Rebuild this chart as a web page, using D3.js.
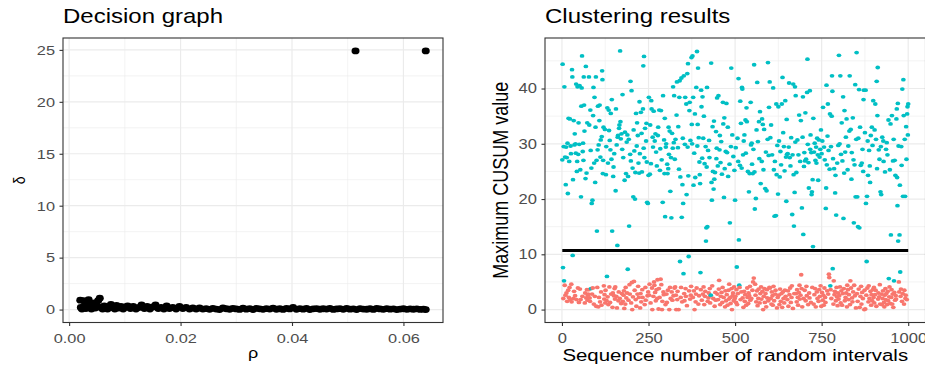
<!DOCTYPE html>
<html>
<head>
<meta charset="utf-8">
<script src="https://cdn.jsdelivr.net/npm/d3@7"></script>
<style>
  body { margin: 0; background: #fff; }
</style>
</head>
<body>
<svg id="chart" width="925" height="370"></svg>
<script>
// ---- data ----
// decision graph: [rho, delta]
const decisionPoints = [
  [0.0020, 0.90], [0.0021, 0.20], [0.0023, 0.05], [0.0026, 0.85], [0.0028, 0.35], [0.0030, 0.10],
  [0.0033, 0.60], [0.0035, 0.95], [0.0037, 0.25], [0.0040, 0.05], [0.0042, 0.40], [0.0045, 0.65],
  [0.0047, 0.15], [0.0050, 0.30], [0.0052, 0.85], [0.0055, 1.10], [0.0057, 0.20], [0.0060, 0.05],
  [0.0063, 0.35], [0.0066, 0.15], [0.0069, 0.05], [0.0072, 0.30], [0.0075, 0.50], [0.0078, 0.20],
  [0.0082, 0.05], [0.0085, 0.40], [0.0089, 0.15], [0.0093, 0.30], [0.0097, 0.05], [0.0101, 0.25],
  [0.0105, 0.35], [0.0110, 0.10], [0.0115, 0.30], [0.0120, 0.05], [0.0125, 0.20], [0.0130, 0.45],
  [0.0135, 0.10], [0.0140, 0.30], [0.0145, 0.05], [0.0150, 0.25], [0.0155, 0.45], [0.0160, 0.10],
  [0.0165, 0.20], [0.0170, 0.05], [0.0175, 0.35], [0.0180, 0.10], [0.0186, 0.20], [0.0192, 0.05],
  [0.0198, 0.30], [0.0204, 0.10], [0.0210, 0.20], [0.0216, 0.05], [0.0222, 0.15], [0.0228, 0.05],
  [0.0234, 0.15], [0.0240, 0.05], [0.0246, 0.10], [0.0252, 0.02], [0.0258, 0.12], [0.0264, 0.05],
  [0.0270, 0.00], [0.0276, 0.15], [0.0282, 0.08], [0.0288, 0.03], [0.0294, 0.11], [0.0300, 0.06],
  [0.0306, 0.01], [0.0312, 0.13], [0.0318, 0.04], [0.0324, 0.09], [0.0330, 0.00], [0.0336, 0.12],
  [0.0342, 0.07], [0.0348, 0.02], [0.0354, 0.10], [0.0360, 0.05], [0.0366, 0.14], [0.0372, 0.03],
  [0.0378, 0.08], [0.0384, 0.01], [0.0390, 0.11], [0.0396, 0.06], [0.0402, 0.20], [0.0408, 0.02],
  [0.0414, 0.09], [0.0420, 0.04], [0.0426, 0.12], [0.0432, 0.00], [0.0438, 0.07], [0.0444, 0.10],
  [0.0450, 0.03], [0.0456, 0.08], [0.0462, 0.05], [0.0468, 0.11], [0.0474, 0.01], [0.0480, 0.06],
  [0.0486, 0.09], [0.0492, 0.02], [0.0498, 0.12], [0.0504, 0.04], [0.0510, 0.07], [0.0516, 0.00],
  [0.0522, 0.10], [0.0528, 0.05], [0.0534, 0.03], [0.0540, 0.08], [0.0546, 0.01], [0.0552, 0.11],
  [0.0558, 0.06], [0.0564, 0.02], [0.0570, 0.09], [0.0576, 0.04], [0.0582, 0.07], [0.0588, 0.00],
  [0.0594, 0.05], [0.0600, 0.08], [0.0606, 0.02], [0.0612, 0.06], [0.0618, 0.03], [0.0624, 0.07],
  [0.0630, 0.01], [0.0636, 0.04], [0.0640, 0.00],
  [0.0514, 24.9], [0.0640, 24.9]
];
const rhoTicks = [0, 0.02, 0.04, 0.06];
const rhoMinor = [0.01, 0.03, 0.05];
const deltaTicks = [0, 5, 10, 15, 20, 25];
const deltaMinor = [2.5, 7.5, 12.5, 17.5, 22.5];

// clustering results: maximum CUSUM value per interval, sequence number = index + 1
const cusum = [
  27.1, 44.4, 7.6, 2.0, 29.5, 5.2, 40.3, 4.4, 27.6, 2.6, 22.6, 29.4, 3.0, 27.5, 1.5, 30.1, 21.0, 3.5, 34.6, 2.2, 26.8, 4.0, 34.5, 1.8, 29.6,
  28.2, 4.6, 1.4, 43.4, 42.1, 9.8, 23.5, 2.0, 34.2, 3.3, 29.8, 31.8, 2.5, 30.0, 28.3, 40.8, 1.8, 25.0, 26.8, 40.3, 3.9, 28.1, 33.8, 1.3, 29.9,
  40.5, 3.7, 25.3, 1.8, 20.4, 36.8, 40.1, 45.9, 2.4, 28.6, 30.1, 27.0, 42.1, 37.0, 32.3, 1.2, 3.0, 23.7, 44.0, 2.1, 24.7, 3.6, 33.8, 1.7, 2.6,
  2.8, 3.6, 42.1, 33.4, 2.1, 1.5, 36.1, 28.8, 3.8, 25.6, 19.2, 2.8, 19.8, 3.9, 35.1, 40.2, 1.0, 26.5, 38.4, 2.4, 23.0, 33.0, 42.1, 0.6, 27.0,
  14.2, 4.0, 28.9, 36.8, 0.5, 29.8, 2.2, 34.2, 37.0, 1.4, 27.6, 30.7, 3.2, 0.8, 31.3, 43.2, 41.6, 24.6, 27.0, 33.0, 4.3, 1.9, 2.7, 32.6, 1.2,
  3.5, 24.4, 29.5, 1.6, 6.0, 36.5, 2.3, 26.5, 0.9, 36.1, 32.4, 4.1, 30.6, 1.3, 28.9, 35.5, 2.8, 27.2, 38.0, 14.2, 0.4, 3.0, 24.1, 25.8, 2.5,
  28.2, 3.8, 1.9, 4.1, 21.5, 36.3, 2.4, 29.8, 0.3, 11.6, 31.2, 31.5, 1.6, 3.2, 32.8, 33.4, 2.0, 46.8, 34.0, 30.9, 1.1, 31.8, 2.9, 29.0, 38.9,
  1.5, 27.5, 2.6, 3.4, 0.2, 23.4, 32.1, 1.0, 4.0, 24.6, 2.1, 30.3, 3.0, 31.6, 7.3, 24.1, 1.7, 30.8, 15.1, 4.5, 2.8, 28.1, 41.3, 26.9, 1.2,
  39.6, 4.9, 0.0, 25.6, 2.3, 20.4, 32.5, 5.1, 28.7, 3.5, 20.0, 24.8, 1.8, 35.5, 0.6, 29.6, 33.8, 2.8, 31.5, 4.2, 26.5, 2.2, 24.7, 37.6, 28.2,
  0.3, 2.9, 35.7, 1.4, 31.9, 24.9, 3.6, 2.2, 36.3, 44.1, 29.2, 45.8, 27.5, 0.9, 32.8, 4.0, 1.7, 30.5, 33.7, 26.7, 19.4, 2.5, 19.2, 3.2, 24.3,
  38.4, 2.6, 4.6, 24.5, 33.4, 1.2, 26.4, 37.8, 36.3, 3.9, 0.0, 31.2, 29.4, 2.4, 35.9, 5.0, 4.4, 30.5, 3.1, 31.8, 1.6, 28.5, 3.6, 26.0, 2.0,
  5.4, 31.5, 33.0, 0.1, 3.8, 36.1, 2.2, 25.2, 29.1, 5.5, 36.0, 4.5, 27.1, 0.0, 1.5, 19.4, 38.7, 3.2, 2.7, 30.7, 24.6, 34.6, 16.8, 0.9, 29.4,
  30.0, 2.8, 1.3, 26.3, 24.6, 3.5, 25.5, 33.0, 28.1, 0.0, 32.3, 4.0, 21.4, 2.0, 27.5, 16.6, 3.2, 31.9, 1.7, 29.2, 40.3, 2.5, 30.2, 38.7, 3.9,
  27.2, 4.1, 30.8, 2.6, 0.0, 35.2, 41.2, 1.8, 3.3, 29.3, 33.1, 0.0, 25.4, 38.4, 41.4, 8.7, 24.0, 2.2, 4.0, 41.9, 16.7, 1.4, 22.6, 31.0, 19.2,
  6.5, 42.3, 2.9, 1.6, 29.9, 38.4, 3.8, 2.4, 37.2, 20.8, 0.7, 42.7, 29.4, 44.5, 24.2, 9.6, 3.4, 36.0, 37.5, 1.9, 30.6, 2.6, 4.2, 45.6, 33.5,
  30.0, 45.9, 2.2, 38.4, 22.5, 3.4, 28.3, 0.0, 35.4, 23.9, 1.4, 2.8, 40.2, 3.9, 46.7, 29.6, 33.5, 43.7, 1.0, 31.1, 2.5, 26.7, 24.4, 22.8, 6.7,
  3.6, 39.7, 36.7, 1.7, 27.4, 38.5, 2.8, 31.0, 4.1, 35.0, 0.9, 26.4, 2.4, 3.3, 29.5, 12.4, 14.8, 25.8, 40.2, 15.0, 1.5, 28.8, 2.1, 3.0, 30.6,
  27.5, 3.8, 1.2, 2.5, 2.6, 44.6, 23.0, 19.8, 4.3, 33.1, 25.0, 2.0, 21.8, 34.1, 23.6, 0.6, 24.8, 3.1, 1.7, 32.2, 27.3, 29.2, 38.3, 2.8, 26.0,
  1.8, 38.7, 3.7, 5.3, 28.9, 31.5, 0.9, 26.6, 2.4, 30.4, 3.1, 24.5, 1.3, 4.0, 37.5, 33.6, 2.2, 20.3, 34.7, 25.5, 0.5, 3.4, 28.6, 1.6, 37.3,
  2.7, 28.4, 0.8, 33.0, 24.1, 3.5, 1.9, 4.6, 26.3, 15.7, 2.2, 1.1, 29.5, 43.7, 3.8, 0.0, 31.6, 2.5, 3.0, 27.7, 1.6, 4.1, 25.2, 2.0, 19.8,
  2.4, 29.3, 1.3, 3.6, 7.7, 0.9, 31.0, 2.9, 26.8, 41.8, 12.6, 4.4, 4.0, 26.1, 37.7, 1.8, 33.7, 3.2, 25.6, 40.2, 39.9, 2.1, 28.0, 0.4, 30.5,
  3.3, 31.6, 1.5, 2.7, 34.3, 28.3, 0.8, 36.5, 34.0, 3.9, 2.2, 25.0, 1.1, 3.0, 21.3, 2.5, 24.6, 4.2, 1.7, 37.5, 29.8, 2.0, 30.1, 26.3, 3.5,
  24.6, 5.0, 29.0, 5.7, 44.3, 24.9, 18.2, 4.6, 2.6, 20.1, 1.4, 32.5, 3.4, 41.1, 0.7, 30.4, 2.0, 3.7, 34.0, 27.3, 1.2, 35.8, 2.9, 22.8, 4.1,
  1.9, 26.8, 34.5, 3.3, 33.5, 0.0, 25.3, 2.4, 32.6, 3.8, 1.3, 21.9, 2.9, 28.5, 0.5, 21.5, 3.6, 2.1, 30.8, 44.7, 1.6, 27.9, 36.6, 4.0, 41.2,
  3.9, 31.1, 2.0, 33.4, 1.0, 3.2, 28.0, 2.5, 0.8, 40.1, 4.2, 25.3, 1.6, 16.9, 26.8, 2.8, 3.5, 17.0, 37.2, 24.4, 0.3, 29.7, 2.2, 20.9, 36.7,
  2.6, 30.5, 0.9, 24.0, 3.7, 28.6, 1.5, 26.2, 2.9, 37.2, 0.4, 42.0, 3.2, 32.0, 2.0, 29.5, 1.2, 25.1, 3.5, 37.8, 2.4, 27.6, 19.6, 34.4, 28.1,
  1.8, 28.2, 3.4, 0.6, 29.4, 41.0, 2.7, 27.5, 3.9, 26.0, 1.3, 31.1, 2.2, 4.3, 17.2, 28.0, 0.2, 40.8, 24.4, 15.1, 2.9, 21.2, 40.3, 30.3, 38.7,
  2.9, 24.8, 1.4, 3.6, 30.7, 2.2, 0.8, 28.0, 3.1, 35.2, 4.4, 1.9, 26.8, 2.6, 34.2, 6.3, 3.8, 18.4, 0.5, 31.2, 38.5, 13.6, 2.0, 25.9, 28.4,
  3.5, 26.9, 35.6, 1.6, 27.2, 4.2, 2.5, 39.3, 45.3, 29.9, 0.9, 26.6, 22.0, 3.0, 2.1, 39.6, 29.0, 31.6, 1.3, 28.4, 20.8, 21.3, 4.0, 23.5, 11.4,
  34.6, 1.0, 28.5, 2.7, 30.1, 3.8, 27.0, 0.5, 29.4, 26.5, 3.2, 31.0, 2.0, 28.0, 23.4, 1.5, 30.7, 3.6, 27.6, 2.4, 29.0, 4.3, 32.5, 0.6, 28.2,
  3.1, 30.5, 1.7, 36.6, 2.6, 0.8, 29.4, 3.9, 27.1, 2.2, 1.3, 18.3, 22.0, 40.6, 26.2, 3.4, 31.4, 37.2, 2.8, 28.8, 6.4, 5.8, 25.4, 35.4, 4.3,
  3.6, 29.5, 2.0, 35.0, 42.3, 39.5, 7.4, 27.3, 1.0, 5.2, 25.5, 2.7, 3.3, 21.1, 24.3, 1.6, 17.1, 4.0, 2.3, 26.5, 0.7, 3.0, 29.7, 1.9, 46.0,
  2.5, 30.0, 4.1, 42.3, 1.2, 28.1, 3.4, 33.8, 0.8, 26.9, 2.9, 38.5, 16.5, 3.8, 24.7, 36.0, 1.6, 28.5, 2.2, 31.2, 3.0, 34.5, 0.5, 4.4, 25.3,
  3.6, 29.6, 1.8, 2.7, 32.3, 42.3, 0.9, 5.2, 32.6, 3.9, 23.6, 28.4, 2.1, 1.4, 34.7, 3.2, 27.1, 15.7, 4.4, 26.2, 2.5, 40.7, 20.4, 0.3, 30.8,
  46.5, 2.9, 20.4, 1.5, 15.0, 31.0, 3.7, 39.8, 14.8, 0.4, 33.0, 2.4, 26.1, 4.2, 1.0, 26.5, 3.1, 29.0, 2.0, 25.0, 38.0, 39.7, 0.0, 3.5, 32.0,
  0.1, 39.7, 19.2, 2.6, 8.7, 20.5, 3.9, 30.5, 24.3, 1.4, 4.3, 28.8, 2.0, 26.0, 23.0, 3.3, 31.5, 0.8, 2.7, 33.0, 1.6, 29.7, 3.6, 37.8, 2.2,
  4.0, 1.2, 32.5, 2.7, 37.2, 3.5, 30.8, 0.6, 41.3, 25.5, 35.1, 43.8, 1.9, 3.0, 28.9, 2.3, 27.2, 4.5, 1.0, 21.3, 29.5, 20.8, 2.8, 0.9, 31.2,
  2.0, 3.4, 30.5, 26.8, 1.3, 0.5, 2.6, 24.9, 3.8, 1.8, 29.0, 2.9, 30.2, 0.9, 28.0, 3.3, 1.6, 34.3, 5.6, 2.3, 4.1, 25.3, 1.1, 33.6, 13.5,
  2.2, 3.6, 35.1, 1.0, 2.8, 26.9, 0.4, 30.8, 5.2, 3.1, 27.0, 1.7, 24.3, 2.5, 1.9, 34.5, 36.3, 23.9, 18.8, 37.3, 12.4, 29.6, 5.0, 3.2, 13.5,
  22.5, 6.8, 2.4, 3.7, 29.5, 26.1, 1.5, 39.9, 2.9, 20.5, 41.6, 35.1, 1.0, 3.5, 30.8, 20.5, 2.0, 2.6, 33.1, 27.2, 1.8, 35.4, 36.7, 31.6, 37.2
];
// intervals in the upper cluster that lie below the cut-off line
const upperBelowCut = [3, 6, 31, 84, 130, 190, 341, 351, 366, 400, 430, 505, 512, 775, 782, 880, 944, 959, 977];
const cutoff = 10.7;
const seqTicks = [0, 250, 500, 750, 1000];
const seqMinor = [125, 375, 625, 875];
const cusumTicks = [0, 10, 20, 30, 40];
const cusumMinor = [5, 15, 25, 35, 45];

// ---- drawing ----
const FONT = '"Liberation Sans", Arial, Helvetica, sans-serif';
const STRETCH = 1.2; // the picture is a bit wider than tall, text and dots too
const svg = d3.select("#chart");
const panelTop = 38;
const panelBottom = 322.5;

const expand = ([a, b]) => [a - (b - a) * 0.05, b + (b - a) * 0.05];

const drawFrame = (x, y, xMaj, xMin, yMaj, yMin, xFmt, yFmt, tickFont) => {
  const [xa, xb] = x.range();
  const [ya, yb] = y.range();
  const g = svg.append("g");

  g.selectAll(null).data(xMin).join("line")
    .attr("x1", x).attr("x2", x).attr("y1", ya).attr("y2", yb)
    .attr("stroke", "#EBEBEB").attr("stroke-width", 0.6);
  g.selectAll(null).data(yMin).join("line")
    .attr("x1", xa).attr("x2", xb).attr("y1", y).attr("y2", y)
    .attr("stroke", "#EBEBEB").attr("stroke-width", 0.6);
  g.selectAll(null).data(xMaj).join("line")
    .attr("x1", x).attr("x2", x).attr("y1", ya).attr("y2", yb)
    .attr("stroke", "#EBEBEB").attr("stroke-width", 1.2);
  g.selectAll(null).data(yMaj).join("line")
    .attr("x1", xa).attr("x2", xb).attr("y1", y).attr("y2", y)
    .attr("stroke", "#EBEBEB").attr("stroke-width", 1.2);

  const xAxis = svg.append("g")
    .attr("transform", `translate(0, ${ya})`)
    .call(d3.axisBottom(x).tickValues(xMaj).tickFormat(xFmt).tickSize(3.5).tickPadding(7.6).tickSizeOuter(0));
  const yAxis = svg.append("g")
    .attr("transform", `translate(${xa}, 0)`)
    .call(d3.axisLeft(y).tickValues(yMaj).tickFormat(yFmt).tickSize(3.5).tickPadding(3.2).tickSizeOuter(0));

  [xAxis, yAxis].forEach((ax) => {
    ax.select(".domain").remove();
    ax.selectAll(".tick line").attr("stroke", "#333333").attr("stroke-width", 1.1);
    ax.selectAll(".tick text")
      .attr("fill", "#4D4D4D")
      .attr("font-family", FONT)
      .attr("font-size", tickFont)
      .attr("transform", `scale(${STRETCH}, 1)`);
  });

  return g;
};

const border = (x, y) => {
  const [xa, xb] = x.range();
  const [ya, yb] = y.range();
  svg.append("rect")
    .attr("x", xa).attr("y", yb)
    .attr("width", xb - xa).attr("height", ya - yb)
    .attr("fill", "none").attr("stroke", "#333333").attr("stroke-width", 1.1);
};

const label = (x, y, text, size, anchor, rotate = false) =>
  svg.append("text")
    .attr("transform", `translate(${x}, ${y}) scale(${STRETCH}, 1)${rotate ? " rotate(-90)" : ""}`)
    .attr("text-anchor", anchor)
    .attr("font-family", FONT)
    .attr("font-size", size)
    .attr("fill", "#000")
    .text(text);

// left panel: decision graph
const xRho = d3.scaleLinear()
  .domain(expand(d3.extent(decisionPoints, (d) => d[0])))
  .range([63, 443]);
const yDelta = d3.scaleLinear()
  .domain(expand([0, d3.max(decisionPoints, (d) => d[1])]))
  .range([panelBottom, panelTop]);

drawFrame(xRho, yDelta, rhoTicks, rhoMinor, deltaTicks, deltaMinor, d3.format(".2f"), d3.format("d"), 13.6);

svg.append("g")
  .selectAll("ellipse")
  .data(decisionPoints)
  .join("ellipse")
  .attr("cx", (d) => xRho(d[0]))
  .attr("cy", (d) => yDelta(d[1]))
  .attr("rx", 4)
  .attr("ry", 3.4)
  .attr("fill", "#000");

border(xRho, yDelta);

label(63, 23, "Decision graph", 20, "start");
label((xRho.range()[0] + xRho.range()[1]) / 2, 358, "ρ", 15, "middle");
label(25, (panelTop + panelBottom) / 2, "δ", 14, "middle", true);

// right panel: clustering results
const points = cusum.map((v, i) => ({
  seq: i + 1,
  value: v,
  upper: v > cutoff || upperBelowCut.includes(i + 1)
}));

const xSeq = d3.scaleLinear()
  .domain(expand(d3.extent(points, (d) => d.seq)))
  .range([545, 925.5]);
const yCusum = d3.scaleLinear()
  .domain(expand([0, d3.max(cusum)]))
  .range([panelBottom, panelTop]);

drawFrame(xSeq, yCusum, seqTicks, seqMinor, cusumTicks, cusumMinor, d3.format("d"), d3.format("d"), 13.8);

svg.append("g")
  .selectAll("ellipse")
  .data(points)
  .join("ellipse")
  .attr("cx", (d) => xSeq(d.seq))
  .attr("cy", (d) => yCusum(d.value))
  .attr("rx", 2.35)
  .attr("ry", 1.9)
  .attr("fill", (d) => (d.upper ? "#00BFC4" : "#F8766D"));

svg.append("line")
  .attr("x1", xSeq(1)).attr("x2", xSeq(cusum.length))
  .attr("y1", yCusum(cutoff)).attr("y2", yCusum(cutoff))
  .attr("stroke", "#000").attr("stroke-width", 3);

border(xSeq, yCusum);

label(545, 23, "Clustering results", 20, "start");
label(xSeq((1 + 1000) / 2), 361, "Sequence number of random intervals", 17, "middle");
label(508, (panelTop + panelBottom) / 2, "Maximum CUSUM value", 18, "middle", true);
</script>
</body>
</html>
